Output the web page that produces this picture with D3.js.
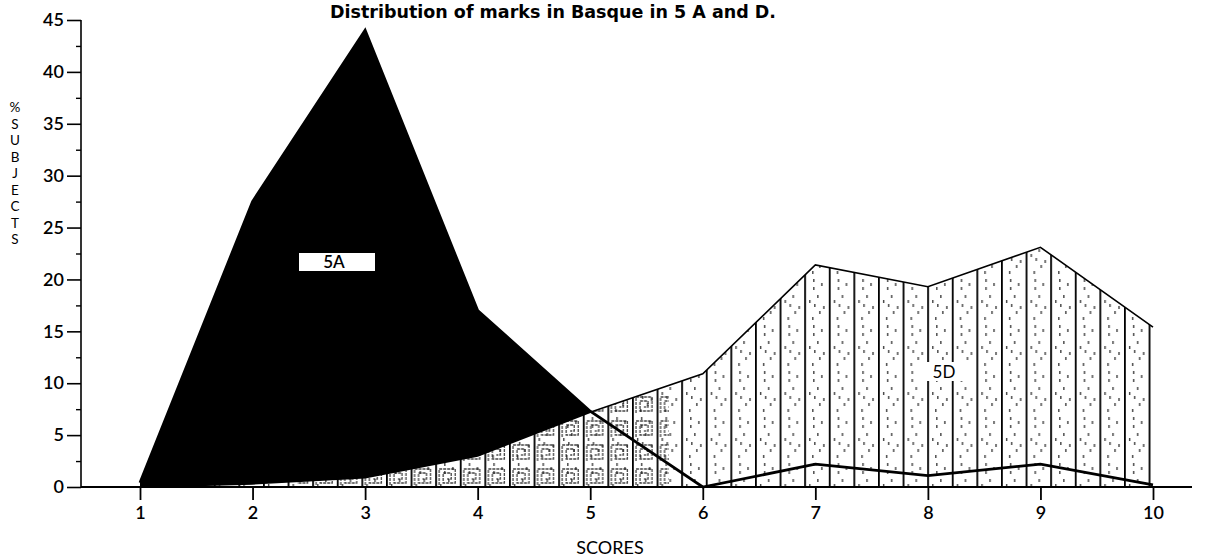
<!DOCTYPE html>
<html><head><meta charset="utf-8">
<script src="https://cdn.jsdelivr.net/npm/d3@7"></script>
<style>body{margin:0;background:#fff}svg{display:block}text{font-family:Lato,"DejaVu Sans",sans-serif;fill:#000}</style>
</head><body><svg id="c" width="1210" height="559"></svg>
<script>
const scores = [1,2,3,4,5,6,7,8,9,10];
const series5A = [0.4,27.5,44,17,7.3,0,2.2,1.1,2.2,0.2];
const series5D = [0,0.3,0.9,3,7.2,10.9,21.4,19.3,23.1,15.4];
const yTicks = [0,5,10,15,20,25,30,35,40,45];
const yMinor = [2.5,7.5,12.5,17.5,22.5,27.5,32.5,37.5,42.5];
const title = "Distribution of marks in Basque in 5 A and D.";
const yLabel = ["%","S","U","B","J","E","C","T","S"];
const xLabel = "SCORES";

const svg = d3.select("#c");
const x = d3.scaleLinear().domain([1,10]).range([140,1153]);
const y = d3.scaleLinear().domain([0,45]).range([487,20]);

const defs = svg.append("defs");
const pat = defs.append("pattern").attr("id","stripes").attr("patternUnits","userSpaceOnUse")
  .attr("x",x(1)).attr("y",0).attr("width",24.6).attr("height",46);
pat.append("rect").attr("width",24.6).attr("height",46).attr("fill","#fff");
pat.append("rect").attr("x",0).attr("y",0).attr("width",1.8).attr("height",46).attr("fill","#000");
[[9,3],[9,11],[13,19],[10,28],[15,35],[8,41],[17,7],[5,24],[19,30]].forEach(([px,py])=>
  pat.append("rect").attr("x",px).attr("y",py).attr("width",1.3).attr("height",3).attr("fill","#333"));
const kp = defs.append("pattern").attr("id","keys").attr("patternUnits","userSpaceOnUse")
  .attr("x",x(1)).attr("y",y(0)+2).attr("width",24.6).attr("height",24);
kp.append("path").attr("d","M4,20 V4 H20 V18 H8 V8 H16 V14 H12").attr("fill","none").attr("stroke","#222").attr("stroke-width",1.3).attr("stroke-dasharray","3 1");
defs.append("clipPath").attr("id","kclip").append("rect").attr("x",x(2.4)).attr("y",y(9)).attr("width",x(5.7)-x(2.4)).attr("height",y(0)-y(9));

const area = d3.area().x((d,i)=>x(scores[i])).y0(y(0)).y1(d=>y(d));
const line = d3.line().x((d,i)=>x(scores[i])).y(d=>y(d));

svg.append("path").datum(series5A).attr("d",area).attr("fill","#000");
svg.append("path").datum(series5D).attr("d",area).attr("fill","url(#stripes)");
svg.append("path").datum(series5D).attr("d",area).attr("fill","url(#keys)").attr("clip-path","url(#kclip)").attr("opacity",0.85);
svg.append("path").datum(series5D).attr("d",line).attr("fill","none").attr("stroke","#000").attr("stroke-width",1.6);
svg.append("path").datum(series5A).attr("d",line).attr("fill","none").attr("stroke","#000").attr("stroke-width",2.8);

const ya = svg.append("g").attr("transform",`translate(81,0)`)
  .call(d3.axisLeft(y).tickValues(yTicks).tickSize(14).tickPadding(3).tickFormat(d3.format("d")));
ya.select(".domain").attr("stroke-width",1.6).attr("d",`M0,${y(45)}V${y(0)}`);
ya.selectAll(".tick line").attr("stroke-width",1.6);
ya.selectAll("text").style("font-size","18px").attr("font-family","Lato").style("font-weight","600");
const ym = svg.append("g").attr("transform",`translate(81,0)`)
  .call(d3.axisLeft(y).tickValues(yMinor).tickSize(5).tickFormat(""));
ym.select(".domain").remove();
ym.selectAll(".tick line").attr("stroke-width",1.4);

const xa = svg.append("g").attr("transform",`translate(0,${y(0)})`)
  .call(d3.axisBottom(x).tickValues(scores).tickSize(13).tickPadding(6).tickFormat(d3.format("d")));
xa.select(".domain").attr("d",`M81,0H1192`).attr("stroke-width",1.8);
xa.selectAll(".tick line").attr("stroke-width",1.8);
xa.selectAll("text").style("font-size","18px").attr("font-family","Lato").style("font-weight","600");

const lab5A = svg.append("g");
lab5A.append("rect").attr("x",299).attr("y",253).attr("width",76).attr("height",18).attr("fill","#fff");
lab5A.append("text").attr("x",334).attr("y",268).attr("text-anchor","middle").style("font-size","17px").style("font-weight","600").text("5A");
const lab5D = svg.append("g");
lab5D.append("rect").attr("x",918).attr("y",362).attr("width",58).attr("height",19).attr("fill","#fff");
lab5D.append("text").attr("x",944).attr("y",378).attr("text-anchor","middle").style("font-size","17px").text("5D");

svg.append("text").attr("x",553).attr("y",18).attr("text-anchor","middle")
  .style("font-family","'DejaVu Sans'").style("font-size","17.5px").style("font-weight","bold").text(title);
svg.append("text").attr("x",610).attr("y",554).attr("text-anchor","middle").style("font-size","18px").text(xLabel);
yLabel.forEach((ch,i)=>svg.append("text").attr("x",15).attr("y",112+i*16.5).attr("text-anchor","middle").style("font-size","13.5px").text(ch));
</script></body></html>
